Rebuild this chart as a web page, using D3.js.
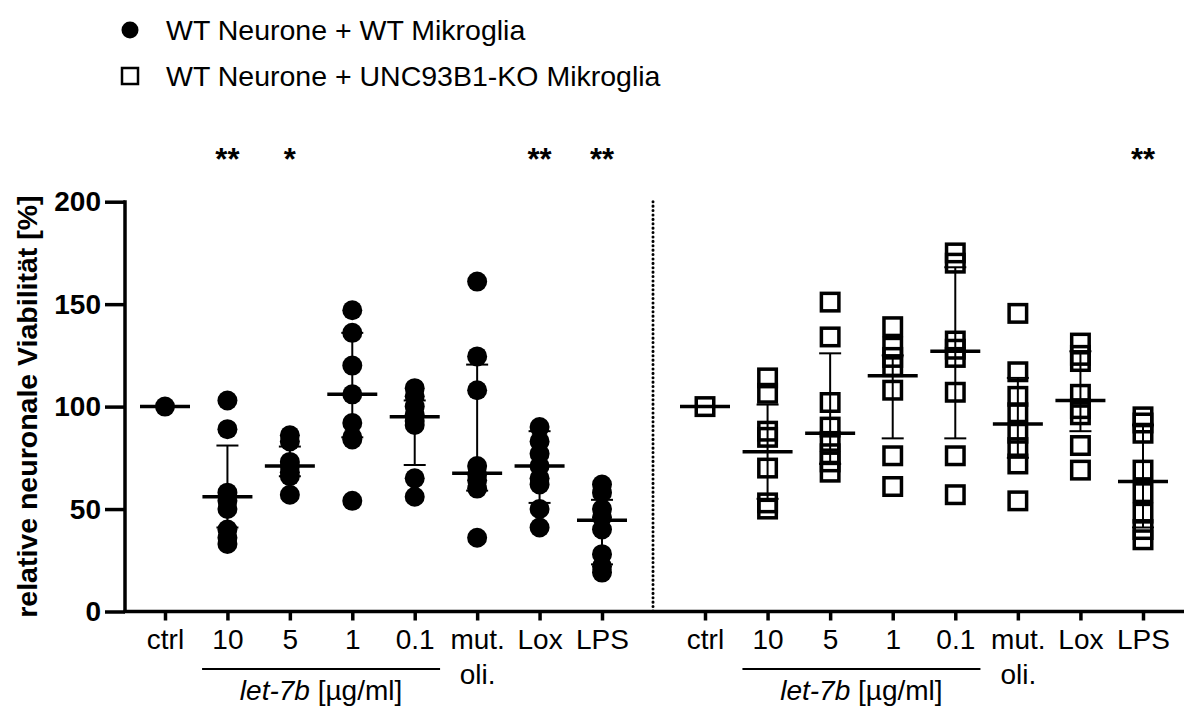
<!DOCTYPE html>
<html>
<head>
<meta charset="utf-8">
<script src="https://cdn.jsdelivr.net/npm/d3@7"></script>
<style>
  body { margin: 0; background: #fff; }
  svg { font-family: "Liberation Sans", Arial, sans-serif; }
</style>
</head>
<body>
<div id="graph"></div>
<script>
// Data
const categories = ['ctrl', '10', '5', '1', '0.1', 'mut. oli.', 'Lox', 'LPS'];
const yTicks = [0, 50, 100, 150, 200];

const wtValues = [
  [100],
  [103, 89, 58, 54, 50, 40, 36, 33],
  [86, 83, 73, 71, 68, 66, 57],
  [147, 136, 120, 106, 92, 85, 84, 54],
  [109, 105, 100, 96, 93, 91, 65, 56],
  [161, 124.5, 108, 71, 67, 64, 60, 36],
  [90, 83, 77, 71, 65, 62, 50, 41],
  [62, 58, 50, 46, 40, 28, 22, 19]
];
const wtMedian = [100, 56, 71, 106, 95, 67.5, 71, 44.5];
const wtQ1 = [100, 41, 66, 85, 71.5, 59, 53, 23];
const wtQ3 = [100, 81, 80.5, 136, 103, 120.5, 88, 54.5];
const wtStars = ['', '**', '*', '', '', '', '**', '**'];

const koValues = [
  [100],
  [114, 106.5, 88, 85, 70, 53, 50],
  [151, 134, 102, 90, 83, 77, 73, 68],
  [139, 129, 124, 119.5, 108, 76, 61],
  [175, 170, 132, 128, 124, 107, 76, 57],
  [145.5, 117, 105, 97, 87, 80, 72, 54],
  [131, 125, 122, 106, 99, 96, 81, 69],
  [95, 92, 87, 69, 58, 48, 40, 35]
];
const koMedian = [100, 78, 87, 115, 127, 91.5, 103, 63.5];
const koQ1 = [100, 55, 72, 84.5, 84.5, 75, 88, 41];
const koQ3 = [100, 101, 126, 125, 168, 114, 127, 91];
const koStars = ['', '', '', '', '', '', '', '**'];

const legendLabels = ['WT Neurone + WT Mikroglia', 'WT Neurone + UNC93B1-KO Mikroglia'];

const W = 1184, H = 706;
const svg = d3.select('#graph').append('svg')
  .attr('width', W)
  .attr('height', H);

// Scales
const yScale = d3.scaleLinear().domain([0, 200]).range([611.5, 201.7]);
const xLeft = d3.scalePoint().domain(categories).range([165, 602]);
const xRight = d3.scalePoint().domain(categories).range([705, 1143]);
const axisX = 125;
const splitX = 653;

// Y axis
const yAxis = d3.axisLeft(yScale).tickValues(yTicks).tickSize(20).tickPadding(4);
const gy = svg.append('g')
  .attr('transform', `translate(${axisX},0)`)
  .call(yAxis);
gy.select('.domain').remove();
gy.selectAll('.tick line').attr('stroke', '#000').attr('stroke-width', 3.5);
gy.selectAll('.tick text')
  .attr('font-size', 28)
  .attr('font-weight', 'bold')
  .attr('font-family', '"Liberation Sans", Arial, sans-serif')
  .attr('fill', '#000');
svg.append('line')
  .attr('x1', axisX).attr('x2', axisX)
  .attr('y1', yScale(200) - 1.5).attr('y2', yScale(0) + 1.5)
  .attr('stroke', '#000').attr('stroke-width', 3.5);

// Axis label
svg.append('text')
  .attr('transform', `translate(37, ${(yScale(0) + yScale(200)) / 2}) rotate(-90)`)
  .attr('text-anchor', 'middle')
  .attr('font-size', 28.5)
  .attr('font-weight', 'bold')
  .text('relative neuronale Viabilität [%]');

// X axis baseline
svg.append('line')
  .attr('x1', axisX - 1.5).attr('x2', W)
  .attr('y1', yScale(0)).attr('y2', yScale(0))
  .attr('stroke', '#000').attr('stroke-width', 3.5);

// Separator
svg.append('line')
  .attr('x1', splitX).attr('x2', splitX)
  .attr('y1', yScale(200)).attr('y2', yScale(0))
  .attr('stroke', '#000').attr('stroke-width', 3)
  .attr('stroke-linecap', 'round')
  .attr('stroke-dasharray', '0.1,4.3');

function drawXAxis(scale) {
  const g = svg.append('g')
    .attr('transform', `translate(0,${yScale(0)})`)
    .call(d3.axisBottom(scale).tickSize(9).tickPadding(9).tickFormat(d => d.split(' ')[0]));
  g.select('.domain').remove();
  g.selectAll('.tick line').attr('stroke', '#000').attr('stroke-width', 3.5);
  g.selectAll('.tick text')
    .attr('font-size', 28)
    .attr('font-family', '"Liberation Sans", Arial, sans-serif')
    .attr('fill', '#000')
    .attr('dy', null)
    .attr('y', 37);
  // second line of two-word labels
  g.selectAll('.tick')
    .filter(d => d.includes(' '))
    .append('text')
    .attr('y', 72)
    .attr('text-anchor', 'middle')
    .attr('font-size', 28)
    .attr('fill', '#000')
    .text(d => d.split(' ')[1]);

  // let-7b bracket
  const mid = (scale('10') + scale('0.1')) / 2;
  svg.append('line')
    .attr('x1', mid - 119).attr('x2', mid + 119)
    .attr('y1', 669).attr('y2', 669)
    .attr('stroke', '#000').attr('stroke-width', 2);
  const t = svg.append('text')
    .attr('x', mid).attr('y', 700)
    .attr('text-anchor', 'middle')
    .attr('font-size', 28);
  t.append('tspan').attr('font-style', 'italic').text('let-7b');
  t.append('tspan').text(' [µg/ml]');
}
drawXAxis(xLeft);
drawXAxis(xRight);

// Median + interquartile range
function drawSummary(scale, med, q1, q3) {
  const g = svg.append('g');
  categories.forEach((c, i) => {
    const x = scale(c);
    g.append('line')
      .attr('x1', x).attr('x2', x)
      .attr('y1', yScale(q1[i])).attr('y2', yScale(q3[i]))
      .attr('stroke', '#000').attr('stroke-width', 2);
    [q1[i], q3[i]].forEach(v => {
      g.append('line')
        .attr('x1', x - 11).attr('x2', x + 11)
        .attr('y1', yScale(v)).attr('y2', yScale(v))
        .attr('stroke', '#000').attr('stroke-width', 2);
    });
    g.append('line')
      .attr('x1', x - 25).attr('x2', x + 25)
      .attr('y1', yScale(med[i])).attr('y2', yScale(med[i]))
      .attr('stroke', '#000').attr('stroke-width', 3.5);
  });
}

// WT points (filled circles)
categories.forEach((c, i) => {
  svg.append('g').selectAll('circle')
    .data(wtValues[i])
    .enter()
    .append('circle')
    .attr('cx', xLeft(c))
    .attr('cy', d => yScale(d))
    .attr('r', 10)
    .attr('fill', '#000');
});
drawSummary(xLeft, wtMedian, wtQ1, wtQ3);

// KO points (open squares)
const sq = 17.5;
drawSummary(xRight, koMedian, koQ1, koQ3);
categories.forEach((c, i) => {
  svg.append('g').selectAll('rect')
    .data(koValues[i])
    .enter()
    .append('rect')
    .attr('x', xRight(c) - sq / 2)
    .attr('y', d => yScale(d) - sq / 2)
    .attr('width', sq)
    .attr('height', sq)
    .attr('fill', 'none')
    .attr('stroke', '#000')
    .attr('stroke-width', 3.5);
});

// Significance stars
function drawStars(scale, stars) {
  svg.append('g').selectAll('text')
    .data(categories)
    .enter()
    .append('text')
    .attr('x', d => scale(d))
    .attr('y', 170)
    .attr('text-anchor', 'middle')
    .attr('font-size', 31)
    .attr('font-weight', 'bold')
    .text((d, i) => stars[i]);
}
drawStars(xLeft, wtStars);
drawStars(xRight, koStars);

// Legend
const legend = svg.append('g');
legend.append('circle')
  .attr('cx', 130).attr('cy', 30).attr('r', 8.5)
  .attr('fill', '#000');
legend.append('rect')
  .attr('x', 122).attr('y', 68).attr('width', 16).attr('height', 16)
  .attr('fill', 'none').attr('stroke', '#000').attr('stroke-width', 2.5);
legend.selectAll('text.leg')
  .data(legendLabels)
  .enter()
  .append('text')
  .attr('class', 'leg')
  .attr('x', 166)
  .attr('y', (d, i) => 40 + i * 46)
  .attr('font-size', 28.5)
  .text(d => d);
</script>
</body>
</html>
